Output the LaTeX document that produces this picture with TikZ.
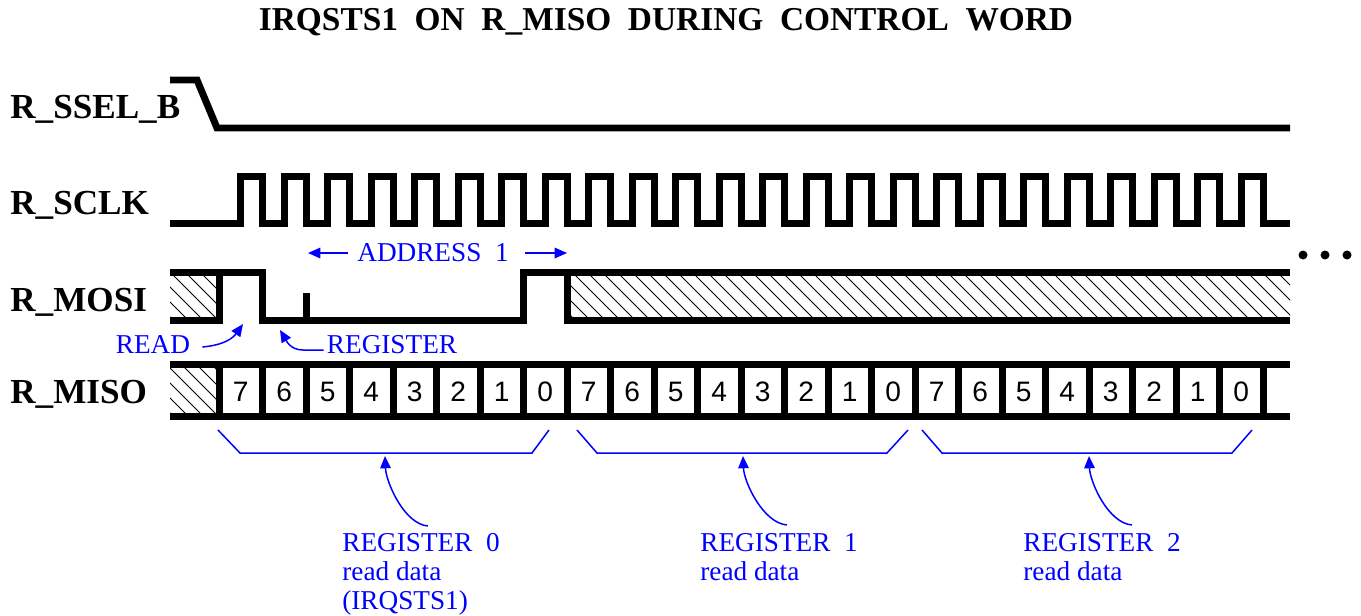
\documentclass[tikz,border=0pt]{standalone}
\usepackage{fontspec}
\setmainfont{Liberation Serif}
\newfontfamily\bitfont{Liberation Sans}
\usetikzlibrary{arrows.meta,positioning}
\tikzset{
  wave/.style={
    line width = 0.14cm,
    line join = miter,
    draw
  },
  hatch/.style={
    line width = 0.45pt,
    draw
  },
  note/.style={
    draw = blue,
    line width = 0.85pt
  },
  notearrow/.style={
    note,
    -{Triangle[length=7pt,width=6pt]}
  },
}
\tikzset{
  heading/.style={
    font = \fontsize{19}{19}\selectfont\bfseries,
    inner sep = 0pt
  },
  sig/.style={
    anchor = base west,
    font = \fontsize{20}{20}\selectfont\bfseries,
    inner sep = 0pt
  },
  bit/.style={
    font = \bitfont\fontsize{16}{16}\selectfont,
    inner sep = 0pt
  },
  bluetxt/.style={
    text = blue,
    font = \fontsize{15.5}{16.5}\selectfont,
    align = left,
    inner sep = 0pt
  }
}

\begin{document}
\begin{tikzpicture}[x=0.02cm,y=-0.02cm]
\useasboundingbox (0,0) rectangle (1361,615);
\node[heading] (ttl) at (666,22) {IRQSTS1\ \ ON\ \ R\_MISO\ \ DURING\ \ CONTROL\ \ WORD};
\node[sig] (ssel) at (10,118) {R\_SSEL\_B};
\node[sig] (sclk) at (10,214) {R\_SCLK};
\node[sig] (mosi) at (10,311) {R\_MOSI};
\node[sig] (miso) at (10,403) {R\_MISO};
      \begin{scope}
        \clip (170,272) rectangle (219,320);
        \foreach \a in {110,125,...,230}{ \draw[hatch] (\a,272) -- ++(48,48); }
      \end{scope}
      \begin{scope}
        \clip (567,272) rectangle (1290,320);
        \foreach \a in {512,527,...,1300}{ \draw[hatch] (\a,272) -- ++(48,48); }
      \end{scope}
      \begin{scope}
        \clip (170,364) rectangle (219,416);
        \foreach \a in {106,121,...,230}{ \draw[hatch] (\a,364) -- ++(52,52); }
      \end{scope}
\draw[wave] (170,80) -- (197,80) -- (217,128) -- (1290,128);
\draw[wave] (170,223)
      \foreach \k [evaluate=\k as \r using 219+43.5*\k+21.75, evaluate=\k as \f using 219+43.5*\k+43.5] in {0,...,23}{
        -- (\r,223) -- (\r,176) -- (\f,176) -- (\f,223) } -- (1290,223);
\draw[wave] (170,272) -- (262.5,272) -- (262.5,320) -- (523.5,320) -- (523.5,272) -- (1290,272);
\draw[wave] (170,320) -- (219,320) -- (219,272);
\draw[wave] (1290,320) -- (567,320) -- (567,272);
\draw[wave] (306,320) -- (306,293);
\draw[wave] (170,364) -- (1290,364);
\draw[wave] (170,416) -- (1290,416);
      \foreach \k in {0,...,24}{ \draw[wave] ({219+43.5*\k},364) -- ({219+43.5*\k},416); }
      \foreach \k in {0,...,23}{
        \pgfmathtruncatemacro{\b}{7-mod(\k,8)}
        \node[bit] (b\k) at ({219+43.5*\k+21.75},392) {\b}; }
      \foreach \x in {1303,1325,1347}{ \fill (\x,255) circle (0.09cm); }
\node[bluetxt] (addr) at (433,253) {ADDRESS\ \ 1};
\coordinate (addrl) at (308,253);
\coordinate (addrr) at (567,253);
\draw[notearrow] ([xshift=-0.18cm]addr.west) -- (addrl);
\draw[notearrow] ([xshift=0.32cm]addr.east) -- (addrr);
\node[bluetxt] (rd) at (153,345) {READ};
\coordinate (rdtip) at (243,324);
\draw[notearrow] ([xshift=0.24cm,yshift=-0.04cm]rd.east) .. controls +(22,-2) and +(-10,14) .. (rdtip);
\node[bluetxt] (rg) at (392,345) {REGISTER};
\coordinate (rgtip) at (280,330);
\draw[notearrow] ([xshift=-0.06cm,yshift=-0.1cm]rg.west) -- (303,350) .. controls (290,350) and (286,340) .. (rgtip);
\draw[note] (218,430) -- (240,453) -- (532,453) -- (549,430);
\draw[note] (577,430) -- (597,453) -- (887,453) -- (908,430);
\draw[note] (922,430) -- (942,453) -- (1232,453) -- (1252,430);
\node[bluetxt, anchor=north west] (reg0) at (342,533) {REGISTER\ \ 0\\read data\\(IRQSTS1)};
\node[bluetxt, anchor=north west] (reg1) at (700,533) {REGISTER\ \ 1\\read data};
\node[bluetxt, anchor=north west] (reg2) at (1023,533) {REGISTER\ \ 2\\read data};
\coordinate (tip0) at (385,456);
\coordinate (tip1) at (743,456);
\coordinate (tip2) at (1089,456);
\draw[notearrow] ([xshift=1.72cm,yshift=0.14cm]reg0.north west) .. controls +(-24,-2) and +(1,26) .. (tip0);
\draw[notearrow] ([xshift=1.74cm,yshift=0.16cm]reg1.north west) .. controls +(-24,-2) and +(1,26) .. (tip1);
\draw[notearrow] ([xshift=2.18cm,yshift=0.16cm]reg2.north west) .. controls +(-24,-2) and +(1,26) .. (tip2);
\end{tikzpicture}
\end{document}
